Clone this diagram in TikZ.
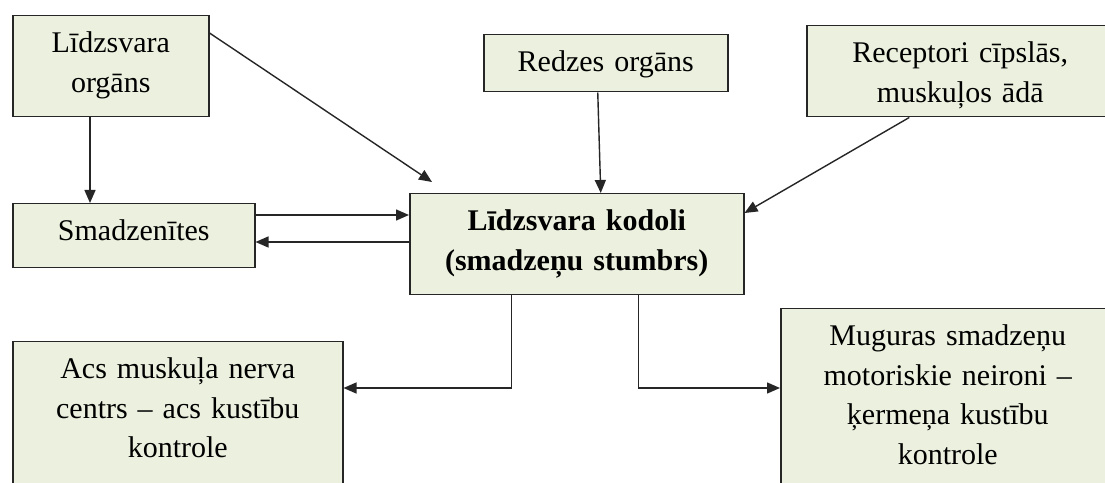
\documentclass[tikz,border=0pt]{standalone}
\usepackage{fontspec}
\setmainfont{Liberation Serif}
\usepackage{xcolor}
\usetikzlibrary{arrows.meta,calc}
\definecolor{boxgreen}{RGB}{235,241,222}
\definecolor{edgegrey}{RGB}{38,38,38}
\tikzset{
  blk/.style ={draw=edgegrey, fill=boxgreen, line width=1.5pt, anchor=north west, align=center,
               font=\fontsize{30}{39.5}\selectfont, inner xsep=0pt, inner ysep=4pt, text height=33pt},
  ar/.style  ={-{Triangle[length=13pt,width=11pt]}, draw=edgegrey, line width=1.4pt},
}
\begin{document}
\begin{tikzpicture}[x=1pt,y=1pt]
\useasboundingbox (0,0) rectangle (1105,482);
\fill[white] (0,0) rectangle (1105,482);
\clip (0,0) rectangle (1105,482);

% top row
\node[blk,text width=196pt,text depth=60pt] (orgLidz) at (12,467) {Līdzsvara\\orgāns};
\node[blk,text width=244pt,text depth=16pt] (redze) at (483,448) {Redzes orgāns};
\node[blk,text width=307pt,text depth=50pt] (recept) at (806,457) {Receptori cīpslās,\\muskuļos ādā};

% middle row
\node[blk,text width=242pt,text depth=23pt] (smadz) at (12,279) {Smadzenītes};
\node[blk,text width=334pt,text depth=60pt,font=\fontsize{30}{39.5}\selectfont\bfseries] (kodoli) at (409,289)
   {Līdzsvara kodoli\\(smadzeņu stumbrs)};

% bottom row
\node[blk,text width=330pt,text depth=120pt] (acs) at (12,141)
   {Acs muskuļa nerva\\centrs – acs kustību\\kontrole};
\node[blk,text width=334pt,text depth=150pt] (mugur) at (780,174)
   {Muguras smadzeņu\\motoriskie neironi –\\ķermeņa kustību\\kontrole};

% connectors
\coordinate (kodTip) at ($(kodoli.north west)+(23,11)$);
\draw[ar] ([xshift=78pt]orgLidz.south west) -- ([xshift=78pt]smadz.north west);
\draw[ar] ([yshift=-18pt]orgLidz.north east) -- (kodTip);
\draw[ar] ([xshift=-8pt]redze.south) -- ([xshift=24pt]kodoli.north);
\draw[ar] ([xshift=-51pt]recept.south) -- ([yshift=-20pt]kodoli.north east);
\draw[ar] ([yshift=-12pt]smadz.north east) -- ([yshift=-12pt]smadz.north east -| kodoli.west);
\draw[ar] ([yshift=-39pt]smadz.north east -| kodoli.west) -- ([yshift=-39pt]smadz.north east);
\draw[ar] ([xshift=-65pt]kodoli.south) |- ([yshift=-47pt]acs.north east);
\draw[ar] ([xshift=62pt]kodoli.south) |- ([yshift=-80pt]mugur.north west);
\end{tikzpicture}
\end{document}
